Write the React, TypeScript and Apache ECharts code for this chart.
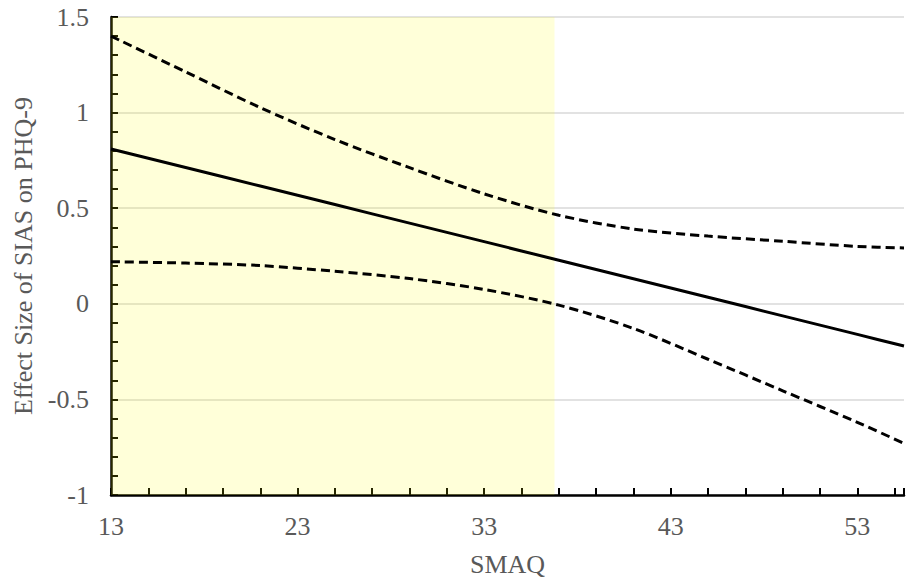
import React, { useEffect, useRef } from "react";
import * as echarts from "echarts";

// SMAQ values (x) at which the curves were read
const smaq = [13, 17, 21, 25, 29, 33, 37, 41, 45, 49, 53, 55.5];
// Conditional effect of SIAS on PHQ-9
const effect = [0.81, 0.713, 0.616, 0.519, 0.422, 0.325, 0.228, 0.131, 0.034, -0.063, -0.16, -0.221];
// Upper and lower confidence bounds
const upper = [1.4, 1.213, 1.026, 0.859, 0.712, 0.575, 0.463, 0.391, 0.354, 0.327, 0.3, 0.292];
const lower = [0.22, 0.213, 0.2, 0.17, 0.132, 0.075, -0.007, -0.129, -0.29, -0.455, -0.62, -0.73];
// Region of significance (shaded)
const regionStart = 13;
const regionEnd = 36.77;
// Axis settings
const xMin = 13;
const xMax = 55.5;
const xStep = 10;
const yMin = -1;
const yMax = 1.5;
const yStep = 0.5;

const FONT = "Times New Roman, Liberation Serif, serif";
const GREY = "#595959";

export default function App() {
  const ref = useRef<HTMLDivElement>(null);
  useEffect(() => {
    if (!ref.current) return;
    const chart = echarts.init(ref.current, undefined, { renderer: "svg" });
    const toPts = (ys: number[]) => smaq.map((x, i) => [x - xMin, ys[i]]);
    const lineStyleSolid = { color: "#000", width: 3, type: "solid" as const };
    const lineStyleDash = { color: "#000", width: 3, type: [9, 5] as any };
    chart.setOption({
      animation: false,
      backgroundColor: "#fff",
      textStyle: { fontFamily: FONT },
      grid: { left: 111, right: 0, top: 17, bottom: 86, containLabel: false },
      xAxis: {
        type: "value",
        min: 0,
        max: xMax - xMin,
        interval: xStep,
        name: "SMAQ",
        nameLocation: "middle",
        nameGap: 56,
        nameTextStyle: { fontFamily: FONT, fontSize: 26, color: GREY },
        axisLine: { show: true, onZero: false, lineStyle: { color: "#000", width: 2.5 } },
        axisTick: { show: true, inside: true, length: 7, lineStyle: { color: "#000", width: 2 } },
        minorTick: { show: true, splitNumber: 5, length: 7, lineStyle: { color: "#000", width: 2 } },
        splitLine: { show: false },
        axisLabel: {
          fontFamily: FONT,
          fontSize: 26,
          color: GREY,
          margin: 18,
          formatter: (v: number) => (v + xMin > xMax - 1 ? "" : String(Math.round(v + xMin))),
        },
      },
      yAxis: {
        type: "value",
        min: yMin,
        max: yMax,
        interval: yStep,
        name: "Effect Size of SIAS on PHQ-9",
        nameLocation: "middle",
        nameGap: 74,
        nameTextStyle: { fontFamily: FONT, fontSize: 26, color: GREY },
        axisLine: { show: true, lineStyle: { color: "#000", width: 2.5 } },
        axisTick: { show: true, inside: true, length: 7, lineStyle: { color: "#000", width: 2 } },
        minorTick: { show: true, splitNumber: 5, length: 7, lineStyle: { color: "#000", width: 2 } },
        splitLine: { show: true, lineStyle: { color: "#d9d9d9", width: 1.5 } },
        axisLabel: { fontFamily: FONT, fontSize: 26, color: GREY, margin: 22 },
      },
      series: [
        {
          type: "line",
          data: toPts(upper),
          smooth: 0.3,
          symbol: "none",
          lineStyle: lineStyleDash,
          z: 3,
          markArea: {
            silent: true,
            itemStyle: { color: "rgba(255,255,0,0.15)" },
            data: [[{ xAxis: regionStart - xMin }, { xAxis: regionEnd - xMin }]],
          },
        },
        {
          type: "line",
          data: toPts(effect),
          smooth: 0.3,
          symbol: "none",
          lineStyle: lineStyleSolid,
          z: 3,
        },
        {
          type: "line",
          data: toPts(lower),
          smooth: 0.3,
          symbol: "none",
          lineStyle: lineStyleDash,
          z: 3,
        },
      ],
    });
    return () => chart.dispose();
  }, []);
  return (
    <div
      ref={ref}
      style={{ position: "fixed", left: 0, top: 0, width: 907, height: 582 }}
    />
  );
}
